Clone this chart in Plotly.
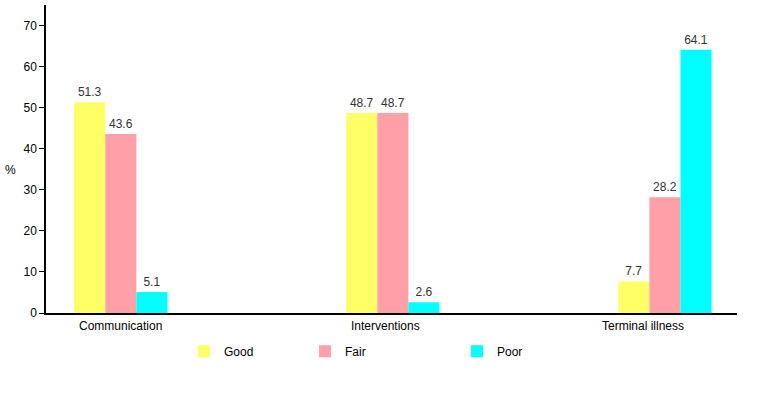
import plotly.graph_objects as go

categories = ["Communication", "Interventions", "Terminal illness"]
good = [51.3, 48.7, 7.7]
fair = [43.6, 48.7, 28.2]
poor = [5.1, 2.6, 64.1]
series_names = ["Good", "Fair", "Poor"]
colors = ["#FFFF66", "#FFA0A8", "#00FFFF"]
label_xshift = [0, -7, -22]  # tick labels in the original sit slightly left of group centres

fig = go.Figure()
for name, vals, col, lg in zip(series_names, [good, fair, poor], colors, ["legend", "legend2", "legend3"]):
    fig.add_trace(go.Bar(
        x=categories, y=vals, name=name, marker=dict(color=col, line=dict(width=0)),
        text=[f"{v:.1f}" for v in vals], textposition="outside", cliponaxis=False,
        textfont=dict(color="#333333", size=12, family="Liberation Sans, Arial, sans-serif"),
        legend=lg, hoverinfo="skip",
    ))

font = dict(family="Liberation Sans, Arial, sans-serif", size=12, color="#000000")
leg_common = dict(orientation="h", yanchor="top", y=-0.077, xanchor="left",
                  bgcolor="rgba(0,0,0,0)", font=font)

annotations = [dict(text="%", x=(10 - 46) / 692, y=(313 - 170) / 308, xref="paper", yref="paper",
                    showarrow=False, xanchor="center", yanchor="middle", font=font)]
for cat, xs in zip(categories, label_xshift):
    annotations.append(dict(text=cat, x=cat, xref="x", y=0, yref="paper", yanchor="top",
                            xanchor="center", yshift=-4, xshift=xs, showarrow=False, font=font))

fig.update_layout(
    width=759, height=406,
    margin=dict(l=46, r=22, t=5, b=93),
    paper_bgcolor="white", plot_bgcolor="white",
    font=font,
    barmode="group", bargap=0.657, bargroupgap=0,
    showlegend=True,
    legend=dict(x=(184 - 46) / 691, **leg_common),
    legend2=dict(x=(305 - 46) / 691, **leg_common),
    legend3=dict(x=(457 - 46) / 691, **leg_common),
    xaxis=dict(range=[-0.275, 2.265], showline=True, linecolor="black", linewidth=1.5,
               ticks="", showgrid=False, zeroline=False, showticklabels=False, automargin=False),
    yaxis=dict(range=[0, 75], tickvals=[0, 10, 20, 30, 40, 50, 60, 70], showline=True,
               linecolor="black", linewidth=1.5, ticks="outside", ticklen=5, tickcolor="black",
               showgrid=False, zeroline=False, tickfont=font, automargin=False),
    annotations=annotations,
)

fig.write_html("out.html", post_script="document.body.style.margin='0';",
               config={"displayModeBar": False})
